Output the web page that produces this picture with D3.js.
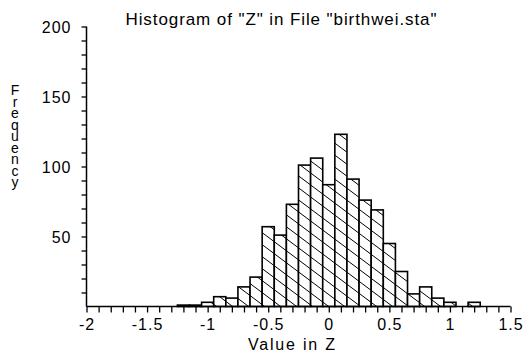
<!DOCTYPE html>
<html>
<head>
<meta charset="utf-8">
<script src="https://cdn.jsdelivr.net/npm/d3@7"></script>
<style>
  html, body { margin: 0; padding: 0; background: #fff; }
  svg { display: block; }
  text { font-family: "Liberation Sans", Arial, sans-serif; fill: #000; }
</style>
</head>
<body>
<script>
// ---- data ----
const binCenters = [-1.2, -1.1, -1.0, -0.9, -0.8, -0.7, -0.6, -0.5, -0.4, -0.3, -0.2, -0.1, 0.0, 0.1, 0.2, 0.3, 0.4, 0.5, 0.6, 0.7, 0.8, 0.9, 1.0, 1.1, 1.2];
const frequencies = [1, 1, 3, 7, 6, 14, 21, 57, 51, 73, 101, 106, 87, 123, 91, 76, 69, 45, 25, 9, 14, 6, 3, 0, 3];
const binWidth = 0.1;
const xTickLabels = [-2, -1.5, -1, -0.5, 0, 0.5, 1, 1.5];
const yTickLabels = [50, 100, 150, 200];
const titleText = 'Histogram of "Z" in File "birthwei.sta"';
const xTitle = "Value in Z";
const yTitle = "Frequency";

const W = 523, H = 355;
const svg = d3.select("body").append("svg").attr("width", W).attr("height", H);
svg.append("rect").attr("width", W).attr("height", H).attr("fill", "#fff");

const x = d3.scaleLinear().domain([-2, 1.5]).range([86.5, 510.5]);
const y = d3.scaleLinear().domain([0, 200]).range([306.5, 26.5]);

// hatch pattern
const defs = svg.append("defs");
const pat = defs.append("pattern").attr("id", "hatch")
  .attr("patternUnits", "userSpaceOnUse").attr("width", 16).attr("height", 12);
pat.append("rect").attr("width", 16).attr("height", 12).attr("fill", "#fff");
pat.append("path").attr("d", "M-4,-3L20,15M-4,-15L20,3M-4,9L20,27")
  .attr("stroke", "#000").attr("stroke-width", 1).attr("fill", "none");

// bars
const data = binCenters.map((c, i) => ({c, v: frequencies[i]})).filter(d => d.v > 0);
svg.append("g").selectAll("rect").data(data).join("rect")
  .attr("x", d => x(d.c - binWidth / 2))
  .attr("width", d => x(d.c + binWidth / 2) - x(d.c - binWidth / 2))
  .attr("y", d => y(d.v))
  .attr("height", d => y(0) - y(d.v))
  .attr("fill", "url(#hatch)")
  .attr("stroke", "#000")
  .attr("stroke-width", 1.6);

// x axis
const fmt = d => String(+d.toFixed(1));
const xAxis = d3.axisBottom(x)
  .tickValues(d3.range(-20, 16).map(k => k / 10))
  .tickSize(6)
  .tickFormat(d => xTickLabels.some(t => Math.abs(t - d) < 1e-9) ? fmt(d) : "");
const gx = svg.append("g").attr("transform", `translate(0,${y(0)})`).call(xAxis);
gx.select(".domain").attr("d", `M${x(-2)},0H${x(1.5)}`).attr("stroke-width", 1.5);
gx.selectAll(".tick line").attr("stroke-width", 1.3);
gx.selectAll("text").attr("font-size", 16).attr("letter-spacing", 1)
  .attr("font-family", '"Liberation Sans", Arial, sans-serif').attr("dy", 0).attr("y", 23);

// y axis
const yAxis = d3.axisLeft(y)
  .tickValues(d3.range(10, 201, 10))
  .tickSize(5)
  .tickFormat(d => yTickLabels.includes(d) ? String(d) : "");
const gy = svg.append("g").attr("transform", `translate(${x(-2)},0)`).call(yAxis);
gy.select(".domain").attr("d", `M0,${y(200)}V${y(0)}`).attr("stroke-width", 1.5);
gy.selectAll(".tick line").attr("stroke-width", 1.3);
gy.selectAll("text").attr("font-size", 16).attr("letter-spacing", 1)
  .attr("font-family", '"Liberation Sans", Arial, sans-serif').attr("x", -15).attr("dy", "0.35em");

// title
svg.append("text").attr("x", 281).attr("y", 25).attr("text-anchor", "middle")
  .attr("font-size", 17).attr("textLength", 311).attr("lengthAdjust", "spacing")
  .text(titleText);

// x title
svg.append("text").attr("x", 291.5).attr("y", 350).attr("text-anchor", "middle")
  .attr("font-size", 16).attr("textLength", 87).attr("lengthAdjust", "spacing")
  .text(xTitle);

// y title: stacked upright letters as one vertical text run
svg.append("text")
  .attr("x", 15).attr("y", 82)
  .attr("font-size", 14)
  .style("writing-mode", "vertical-rl")
  .style("text-orientation", "upright")
  .style("letter-spacing", "-4.5px")
  .text(yTitle);
</script>
</body>
</html>
